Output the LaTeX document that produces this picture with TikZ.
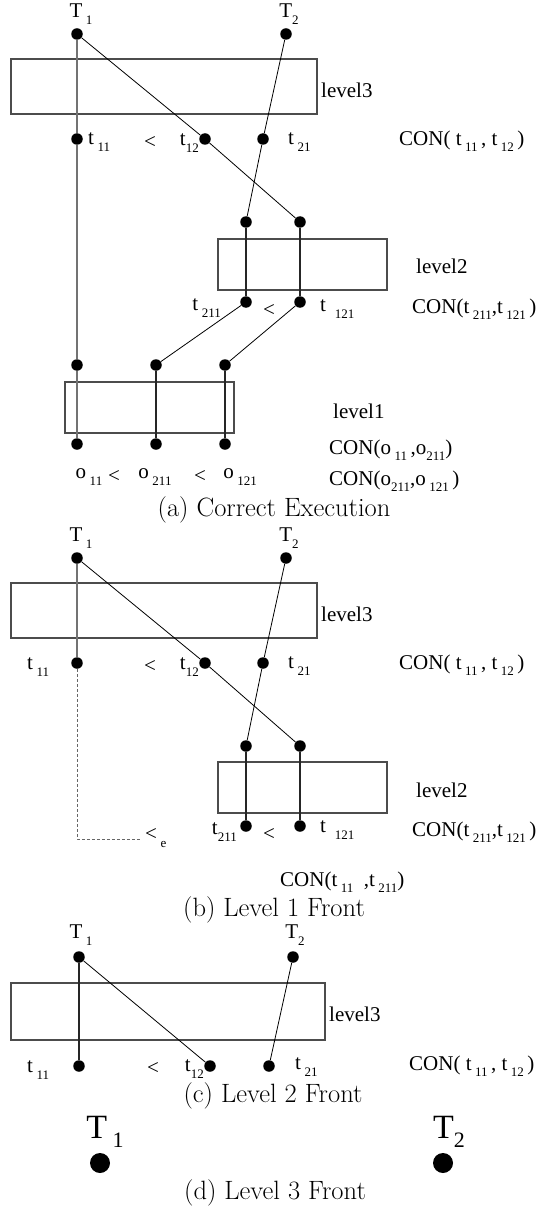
\documentclass[tikz,border=0pt]{standalone}
\usepackage{fontspec}
\newfontfamily\tms{Liberation Serif}
\newcommand\dn[1]{\raisebox{-0.3em}{\fontsize{13}{13}\selectfont #1}}
\newcommand\bdn[1]{\raisebox{-0.25em}{\fontsize{22}{22}\selectfont #1}}
\begin{document}
\begin{tikzpicture}[x=1pt,y=-1pt,
 dot/.style={circle,fill=black,inner sep=0pt,minimum size=11.5pt},
 bigdot/.style={circle,fill=black,inner sep=0pt,minimum size=20pt},
 lbl/.style={inner sep=0pt,font=\tms\fontsize{21}{21}\selectfont},
 biglbl/.style={inner sep=0pt,font=\tms\fontsize{34}{34}\selectfont},
 capt/.style={inner sep=0pt,font=\fontsize{26.5}{26.5}\selectfont},
 lvlbox/.style={draw=black!70,line width=1.1pt,inner sep=0pt},
 vline/.style={draw=black!85,line width=1.1pt},
 tline/.style={draw=black!55,line width=1.2pt},
 dline/.style={draw=black,line width=0.8pt},
 dashline/.style={draw=black!60,line width=1pt,dash pattern=on 3pt off 2pt}]
\useasboundingbox (0,0) rectangle (538,1206);

% ---------------- panel (a)
\node[lvlbox,minimum width=306pt,minimum height=55pt] (alv3) at (164,86.5) {};
\node[lvlbox,minimum width=169pt,minimum height=51pt] (alv2) at (302.5,264.5) {};
\node[lvlbox,minimum width=169pt,minimum height=51pt] (alv1) at (149.5,407.5) {};
\node[dot] (aT1) at (77,34) {};
\node[dot] (aT2) at (286,34) {};
\node[dot] (at11) at (77,139) {};
\node[dot] (at12) at (205,139) {};
\node[dot] (at21) at (263,139) {};
\node[dot] (ab1) at (246,222) {};
\node[dot] (ab2) at (300,222) {};
\node[dot] (at211) at (246,302) {};
\node[dot] (at121) at (300,302) {};
\node[dot] (ac1) at (77,365) {};
\node[dot] (ac2) at (156,365) {};
\node[dot] (ac3) at (225,365) {};
\node[dot] (ao11) at (77,444) {};
\node[dot] (ao211) at (156,444) {};
\node[dot] (ao121) at (225,444) {};
\draw[tline] (aT1) -- (at11) -- (ac1) -- (ao11);
\draw[dline] (aT1) -- (at12) -- (ab2);
\draw[dline] (aT2) -- (at21) -- (ab1);
\draw[vline] (ab1) -- (at211);
\draw[vline] (ab2) -- (at121);
\draw[dline] (at211) -- (ac2);
\draw[dline] (at121) -- (ac3);
\draw[vline] (ac2) -- (ao211);
\draw[vline] (ac3) -- (ao121);
\node[lbl] (aT1l) at (81,14) {T\,\dn{1}};
\node[lbl] (aT2l) at (289,14) {T\dn{2}};
\node[lbl,anchor=west] (alv3l) at (321,90) {level3};
\node[lbl,anchor=west] (at11l) at (88,142) {t\,\dn{11}};
\node[lbl] (alt1) at (150,142) {<};
\node[lbl,anchor=east] (at12l) at (199,143) {t\dn{12}};
\node[lbl,anchor=west] (at21l) at (288,142) {t\,\dn{21}};
\node[lbl,anchor=west] (acon1) at (399,141) {CON( t\,\dn{11}\,, t\,\dn{12}\,)};
\node[lbl,anchor=west] (alv2l) at (416,266) {level2};
\node[lbl,anchor=east] (at211l) at (221,308) {t\,\dn{211}};
\node[lbl] (alt2) at (269,310) {<};
\node[lbl,anchor=west] (at121l) at (320,309) {t\ \,\dn{121}};
\node[lbl,anchor=west] (acon2) at (412,309) {CON(t\,\dn{211},t\,\dn{121}\,)};
\node[lbl,anchor=west] (alv1l) at (333,411) {level1};
\node[lbl] (ao11l) at (89,477) {o\,\dn{11}};
\node[lbl] (alt3) at (114,476) {<};
\node[lbl] (ao211l) at (155,477) {o\,\dn{211}};
\node[lbl] (alt4) at (200,476) {<};
\node[lbl] (ao121l) at (240,477) {o\,\dn{121}};
\node[lbl,anchor=west] (acon3) at (329,450) {CON(o\,\dn{11}\,,o\dn{211})};
\node[lbl,anchor=west] (acon4) at (329,481) {CON(o\dn{211},o\,\dn{121}\,)};
\node[capt] (acap) at (274,510) {(a) Correct Execution};

% ---------------- panel (b)
\node[lvlbox,minimum width=306pt,minimum height=55pt] (blv3) at (164,610.5) {};
\node[lvlbox,minimum width=169pt,minimum height=51pt] (blv2) at (302.5,787.5) {};
\node[dot] (bT1) at (77,558) {};
\node[dot] (bT2) at (286,558) {};
\node[dot] (bt11) at (77,663) {};
\node[dot] (bt12) at (205,663) {};
\node[dot] (bt21) at (263,663) {};
\node[dot] (bb1) at (246,746) {};
\node[dot] (bb2) at (300,746) {};
\node[dot] (bt211) at (246,826) {};
\node[dot] (bt121) at (300,826) {};
\coordinate (bcorner) at (77,839);
\coordinate (bend) at (140,839);
\draw[tline] (bT1) -- (bt11);
\draw[dline] (bT1) -- (bt12) -- (bb2);
\draw[dline] (bT2) -- (bt21) -- (bb1);
\draw[vline] (bb1) -- (bt211);
\draw[vline] (bb2) -- (bt121);
\draw[dashline] (bt11) -- (bcorner) -- (bend);
\node[lbl] (bT1l) at (81,538) {T\,\dn{1}};
\node[lbl] (bT2l) at (289,538) {T\dn{2}};
\node[lbl,anchor=west] (blv3l) at (321,614) {level3};
\node[lbl,anchor=west] (bt11l) at (27,667) {t\,\dn{11}};
\node[lbl] (blt1) at (150,666) {<};
\node[lbl,anchor=east] (bt12l) at (199,667) {t\dn{12}};
\node[lbl,anchor=west] (bt21l) at (288,666) {t\,\dn{21}};
\node[lbl,anchor=west] (bcon1) at (399,665) {CON( t\,\dn{11}\,, t\,\dn{12}\,)};
\node[lbl,anchor=west] (blv2l) at (416,790) {level2};
\node[lbl,anchor=east] (bt211l) at (237,832) {t\dn{211}};
\node[lbl] (blt2) at (269,834) {<};
\node[lbl,anchor=west] (bt121l) at (320,830) {t\ \,\dn{121}};
\node[lbl,anchor=west] (bcon2) at (412,832) {CON(t\,\dn{211},t\,\dn{121}\,)};
\node[lbl,anchor=west] (blte) at (145,838) {<\,\dn{e}};
\node[lbl,anchor=west] (bcon3) at (280,882) {CON(t\,\dn{11}\ \ ,t\,\dn{211})};
\node[capt] (bcap) at (274,910) {(b) Level 1 Front};

% ---------------- panel (c)
\node[lvlbox,minimum width=314pt,minimum height=57pt] (clv3) at (168,1011.5) {};
\node[dot] (cT1) at (79,957) {};
\node[dot] (cT2) at (293,957) {};
\node[dot] (ct11) at (79,1066) {};
\node[dot] (ct12) at (210,1066) {};
\node[dot] (ct21) at (269,1066) {};
\draw[vline] (cT1) -- (ct11);
\draw[dline] (cT1) -- (ct12);
\draw[dline] (cT2) -- (ct21);
\node[lbl] (cT1l) at (81,935) {T\,\dn{1}};
\node[lbl] (cT2l) at (295,935) {T\dn{2}};
\node[lbl,anchor=west] (clv3l) at (329,1014) {level3};
\node[lbl,anchor=west] (ct11l) at (27,1070) {t\,\dn{11}};
\node[lbl] (clt1) at (153,1068) {<};
\node[lbl,anchor=east] (ct12l) at (204,1069) {t\dn{12}};
\node[lbl,anchor=west] (ct21l) at (295,1067) {t\,\dn{21}};
\node[lbl,anchor=west] (ccon1) at (409,1066) {CON( t\,\dn{11}\,, t\,\dn{12}\,)};
\node[capt] (ccap) at (273,1096) {(c) Level 2 Front};

% ---------------- panel (d)
\node[bigdot] (dT1) at (100,1163) {};
\node[bigdot] (dT2) at (443,1163) {};
\node[biglbl] (dT1l) at (105,1132) {T\,\bdn{1}};
\node[biglbl] (dT2l) at (449,1132) {T\bdn{2}};
\node[capt] (dcap) at (275,1193) {(d) Level 3 Front};
\end{tikzpicture}
\end{document}
